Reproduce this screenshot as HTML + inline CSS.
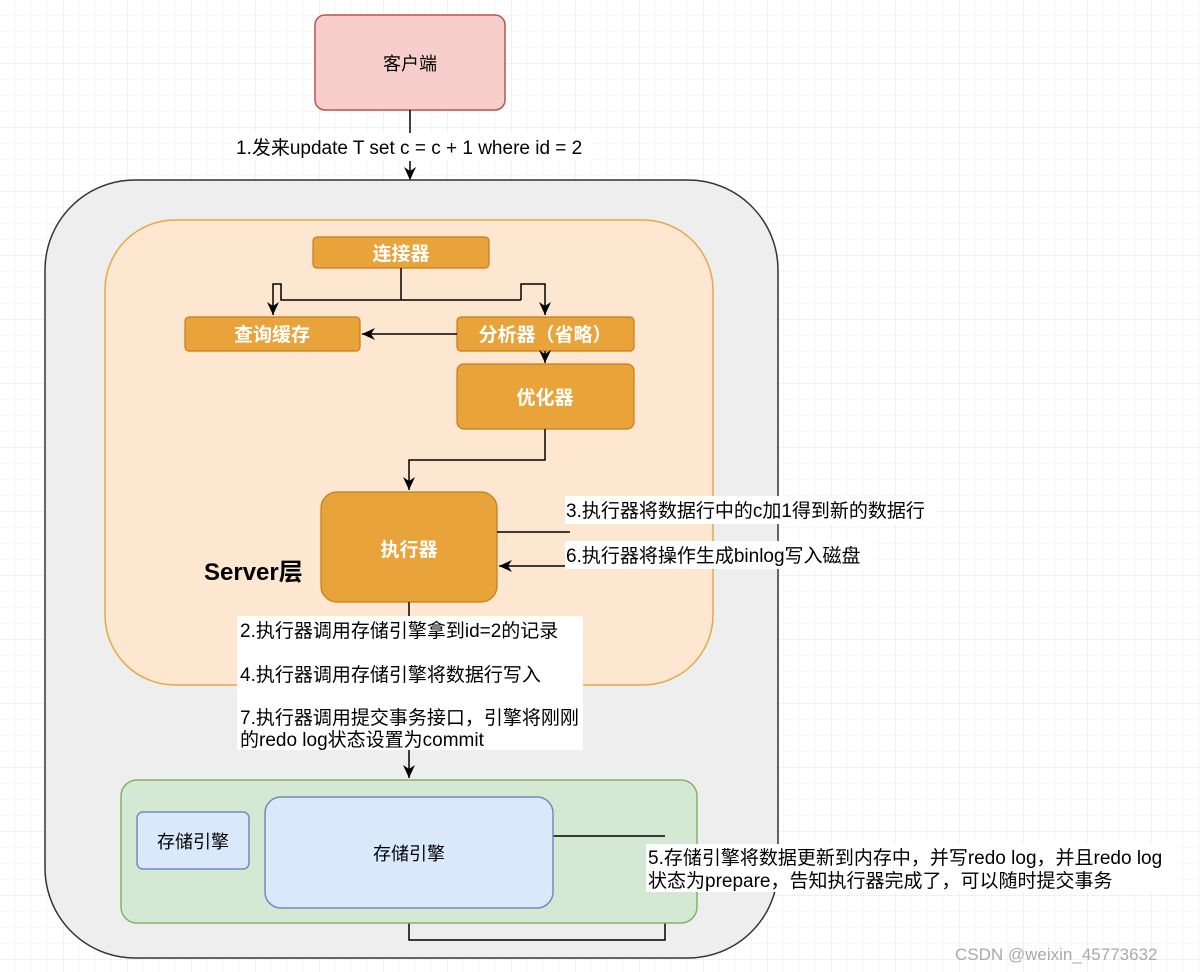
<!DOCTYPE html>
<html><head><meta charset="utf-8"><style>
html,body{margin:0;padding:0;background:#fff;}
svg{display:block;font-family:"Liberation Sans","Noto Sans CJK SC",sans-serif;}
</style></head><body>
<svg width="1200" height="972" viewBox="0 0 1200 972" xmlns="http://www.w3.org/2000/svg">
<defs>
<pattern id="g" width="16" height="16" patternUnits="userSpaceOnUse"><path d="M16 0V16H0" fill="none" stroke="#f0f0f0" stroke-width="1"/></pattern>
<pattern id="G" width="64" height="64" patternUnits="userSpaceOnUse"><rect width="64" height="64" fill="url(#g)"/><path d="M64 0V64H0" fill="none" stroke="#e2e2e2" stroke-width="1"/></pattern>
<marker id="a" markerWidth="14" markerHeight="14" refX="13" refY="6" orient="auto" markerUnits="userSpaceOnUse"><path d="M0,0 L13,6 L0,12 L4,6 Z" fill="#000"/></marker>
</defs>
<rect width="1200" height="972" fill="url(#G)"/>
<rect x="315" y="15" width="190" height="95" rx="10" fill="#f8cecc" stroke="#b85450" stroke-width="1.5"/>
<text x="410" y="70" font-size="18" text-anchor="middle" fill="#000">客户端</text>
<line x1="410" y1="110" x2="410" y2="180" stroke="#000" stroke-width="1.5" marker-end="url(#a)"/>
<rect x="232" y="133" width="360" height="28" fill="#fff"/>
<text x="236" y="154" font-size="19">1.发来update T set c = c + 1 where id = 2</text>
<rect x="45" y="180" width="733" height="778" rx="90" fill="#eeeeee" stroke="#333" stroke-width="1.5"/>
<rect x="105" y="220" width="608" height="465" rx="70" fill="#fde7d1" stroke="#e3a84a" stroke-width="1.5"/>
<g fill="#e8a33a" stroke="#c57c1b" stroke-width="1.2">
<rect x="313" y="237" width="176" height="31" rx="4"/>
<rect x="185" y="317" width="175" height="34" rx="4"/>
<rect x="457" y="317" width="177" height="34" rx="4"/>
<rect x="457" y="364" width="177" height="65" rx="7"/>
<rect x="321" y="492" width="176" height="110" rx="16"/>
</g>
<g fill="#fff" font-size="19" text-anchor="middle" font-weight="bold">
<text x="401" y="260">连接器</text>
<text x="272" y="341">查询缓存</text>
<text x="545" y="341">分析器（省略）</text>
<text x="545" y="404">优化器</text>
<text x="409" y="556">执行器</text>
</g>
<text x="204" y="580" font-size="24" font-weight="bold">Server层</text>
<g fill="none" stroke="#000" stroke-width="1.5">
<path d="M401,268 V300"/>
<path d="M521,300 H281 V284 H273 V315" marker-end="url(#a)"/>
<path d="M521,300 V284 H545 V315" marker-end="url(#a)"/>
<path d="M457,334 H362" marker-end="url(#a)"/>
<path d="M545,351 V363" marker-end="url(#a)"/>
<path d="M545,429 V460 H409 V490" marker-end="url(#a)"/>
<path d="M497,532 H570"/>
<path d="M570,566 H499" marker-end="url(#a)"/>
<path d="M409,602 V778" marker-end="url(#a)"/>
<path d="M553,836 H665 V940 H409 V910" marker-end="url(#a)"/>
</g>
<rect x="565" y="496" width="370" height="28" fill="#fff"/>
<text x="566" y="517" font-size="19">3.执行器将数据行中的c加1得到新的数据行</text>
<rect x="565" y="541" width="302" height="28" fill="#fff"/>
<text x="566" y="562" font-size="19">6.执行器将操作生成binlog写入磁盘</text>
<rect x="237" y="616" width="346" height="134" fill="#fff"/>
<g font-size="19">
<text x="240" y="637">2.执行器调用存储引擎拿到id=2的记录</text>
<text x="240" y="681">4.执行器调用存储引擎将数据行写入</text>
<text x="240" y="724">7.执行器调用提交事务接口，引擎将刚刚</text>
<text x="240" y="746">的redo log状态设置为commit</text>
</g>
<rect x="121" y="780" width="576" height="143" rx="16" fill="#d5e8d4" stroke="#82b366" stroke-width="1.5"/>
<rect x="137" y="812" width="112" height="57" rx="6" fill="#dae8fc" stroke="#6c8ebf" stroke-width="1.5"/>
<text x="193" y="848" font-size="18" text-anchor="middle">存储引擎</text>
<path d="M553,836 H665" stroke="#000" stroke-width="1.5"/>
<rect x="265" y="797" width="288" height="111" rx="16" fill="#dae8fc" stroke="#6c8ebf" stroke-width="1.5"/>
<text x="409" y="860" font-size="18" text-anchor="middle">存储引擎</text>
<rect x="646" y="844" width="526" height="48" fill="#fff"/>
<text x="648" y="864" font-size="19">5.存储引擎将数据更新到内存中，并写redo log，并且redo log</text>
<text x="648" y="887" font-size="19">状态为prepare，告知执行器完成了，可以随时提交事务</text>
<text x="955" y="960" font-size="17" fill="#aaa">CSDN @weixin_45773632</text>
</svg>
</body></html>
